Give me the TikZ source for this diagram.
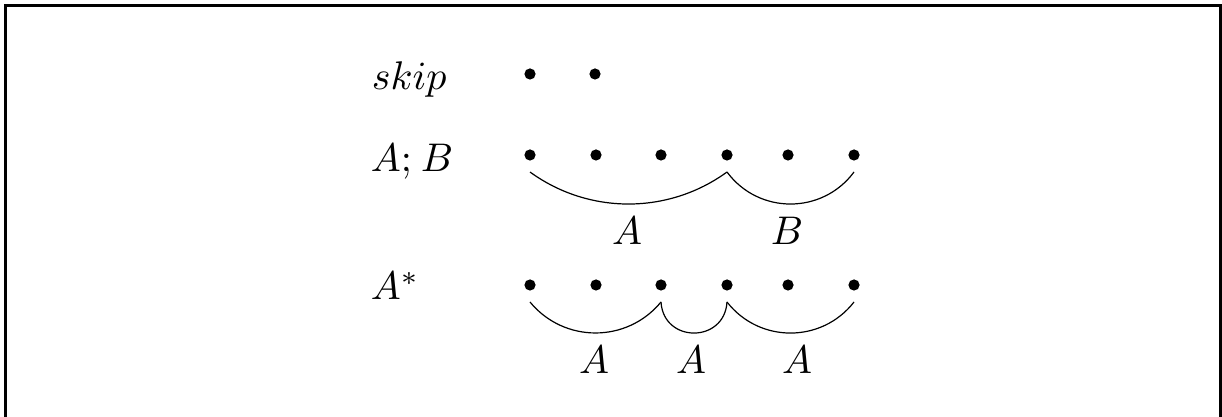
\documentclass[tikz,border=0pt]{standalone}
\begin{document}
\begin{tikzpicture}[x=0.25pt,y=0.25pt,
  dot/.style={circle,fill=black,inner sep=0pt,minimum size=2.8pt,outer sep=2.85pt},
  lbl/.style={inner sep=0pt,anchor=base west,font=\fontsize{10}{12}\selectfont},
  arclbl/.style={inner sep=0pt,anchor=base,font=\fontsize{10}{12}\selectfont},
  arcline/.style={line width=0.3pt},
  frame/.style={line width=0.75pt}]
\useasboundingbox (0,0) rectangle (1222,417);
\begin{scope}
\clip (0,0) rectangle (1222,417);
\draw[frame] (5.5,-20) -- (5.5,411) -- (1220.5,411) -- (1220.5,-20);
\end{scope}
% labels
\node[lbl] (lskip) at (371,327) {$skip$};
\node[lbl] (lab) at (370,245) {$A;\mkern1mu B$};
\node[lbl] (lstar) at (370,117) {$A^*$};
% row 1
\node[dot] (r1a) at (530,343) {};
\node[dot] (r1b) at (595,343) {};
% rows 2 and 3
\foreach \i/\x in {1/530,2/596,3/661,4/727,5/788,6/854}{
  \node[dot] (r2\i) at (\x,262) {};
  \node[dot] (r3\i) at (\x,132) {};
}
% row 2 arcs
\draw[arcline] (r21.south) .. controls +(58.7,-42.7) and +(-58.7,-42.7) .. (r24.south);
\draw[arcline] (r24.south) .. controls +(31.6,-42.7) and +(-31.6,-42.7) .. (r26.south);
\node[arclbl] (la2) at (627,172) {$A$};
\node[arclbl] (lb2) at (787,172) {$B$};
% row 3 arcs
\draw[arcline] (r31.south) .. controls +(33.9,-41.3) and +(-33.9,-41.3) .. (r33.south);
\draw[arcline] (r33.south) .. controls +(2.5,-41.4) and +(-2.5,-41.4) .. (r34.south);
\draw[arcline] (r34.south) .. controls +(32.2,-41.4) and +(-32.2,-41.4) .. (r36.south);
\node[arclbl] (la3) at (594,43) {$A$};
\node[arclbl] (lb3) at (691,43) {$A$};
\node[arclbl] (lc3) at (797,43) {$A$};
\end{tikzpicture}
\end{document}
